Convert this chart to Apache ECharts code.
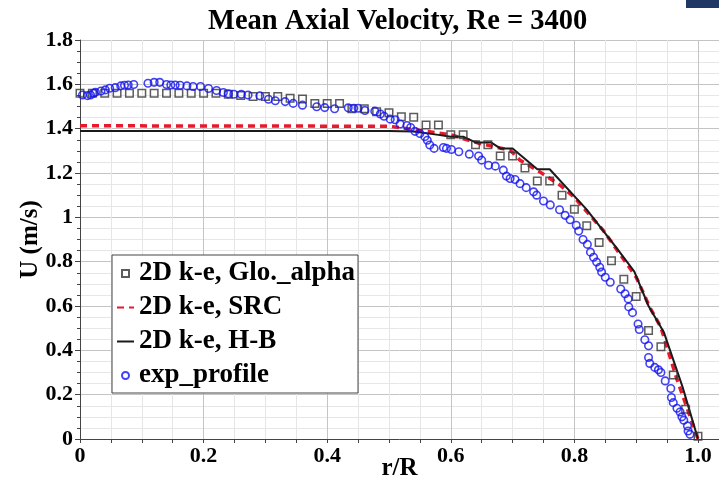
<!DOCTYPE html>
<html>
<head>
<meta charset="utf-8">
<script src="https://cdn.jsdelivr.net/npm/echarts@6/dist/echarts.min.js"></script>
<style>
  html, body { margin: 0; padding: 0; background: #fff; }
  #chart { width: 719px; height: 483px; }
</style>
</head>
<body>
<div id="chart"></div>
<script>
// 2D k-e, Glo._alpha (squares)
const gloR = [0, 0.02, 0.04, 0.06, 0.08, 0.10, 0.12, 0.14, 0.16, 0.18, 0.20, 0.22, 0.24, 0.26, 0.28, 0.30,
  0.32, 0.34, 0.36, 0.38, 0.40, 0.42, 0.44, 0.46, 0.48, 0.50, 0.52, 0.54, 0.56, 0.58, 0.60, 0.62, 0.64,
  0.66, 0.68, 0.70, 0.72, 0.74, 0.76, 0.78, 0.80, 0.82, 0.84, 0.86, 0.88, 0.90, 0.92, 0.94, 0.96, 0.98, 1.00]
const gloU = [1.56, 1.56, 1.56, 1.56, 1.56, 1.56, 1.56, 1.56, 1.56, 1.56, 1.56, 1.56, 1.555, 1.55, 1.545, 1.545,
  1.545, 1.537, 1.534, 1.514, 1.514, 1.514, 1.49, 1.49, 1.476, 1.472, 1.454, 1.451, 1.416, 1.416, 1.372, 1.372, 1.328,
  1.328, 1.277, 1.277, 1.223, 1.164, 1.164, 1.10, 1.037, 0.962, 0.886, 0.804, 0.721, 0.643, 0.489, 0.416, 0.289, 0.134, 0.012]

// 2D k-e, SRC (red dashed)
const srcR = [0, 0.50, 0.53, 0.56, 0.60, 0.647, 0.696, 0.712, 0.744, 0.777, 0.80, 0.847, 0.90, 0.922, 0.94, 0.965, 1.0]
const srcU = [1.413, 1.411, 1.40, 1.388, 1.372, 1.333, 1.303, 1.258, 1.205, 1.145, 1.09, 0.94, 0.73, 0.594, 0.504, 0.277, 0.0]

// 2D k-e, H-B (black line)
const hbR = [0, 0.50, 0.54, 0.58, 0.60, 0.62, 0.64, 0.665, 0.68, 0.70, 0.74, 0.76, 0.82, 0.87, 0.897, 0.92, 0.945, 0.975, 1.0]
const hbU = [1.39, 1.39, 1.387, 1.372, 1.364, 1.364, 1.338, 1.338, 1.311, 1.311, 1.217, 1.217, 1.035, 0.855, 0.755, 0.60, 0.48, 0.235, 0.0]

// exp_profile (blue circles)
const expR = [0.004, 0.012, 0.017, 0.022, 0.025, 0.034, 0.041, 0.048, 0.057, 0.066, 0.072, 0.078, 0.087, 0.110, 0.120,
  0.129, 0.140, 0.147, 0.154, 0.162, 0.173, 0.183, 0.195, 0.208, 0.221, 0.232, 0.240, 0.249, 0.261, 0.272, 0.291,
  0.305, 0.316, 0.332, 0.345, 0.360, 0.383, 0.396, 0.412, 0.434, 0.443, 0.450, 0.461, 0.477, 0.486, 0.492, 0.502,
  0.510, 0.518, 0.529, 0.535, 0.542, 0.550, 0.558, 0.562, 0.566, 0.573, 0.588, 0.593, 0.601, 0.613, 0.630, 0.645,
  0.650, 0.661, 0.672, 0.685, 0.690, 0.696, 0.704, 0.712, 0.722, 0.734, 0.739, 0.750, 0.761, 0.776, 0.785, 0.793,
  0.803, 0.807, 0.814, 0.821, 0.826, 0.831, 0.836, 0.841, 0.844, 0.850, 0.858, 0.875, 0.882, 0.887, 0.888, 0.894,
  0.903, 0.905, 0.914, 0.920, 0.920, 0.922, 0.930, 0.936, 0.940, 0.947, 0.956, 0.957, 0.960, 0.966, 0.971, 0.974,
  0.977, 0.983, 0.984, 0.987]
const expU = [1.552, 1.549, 1.552, 1.560, 1.564, 1.570, 1.575, 1.582, 1.585, 1.593, 1.596, 1.597, 1.599, 1.605, 1.609,
  1.609, 1.599, 1.597, 1.597, 1.596, 1.593, 1.590, 1.590, 1.581, 1.572, 1.563, 1.557, 1.555, 1.555, 1.552, 1.548,
  1.533, 1.526, 1.522, 1.514, 1.506, 1.499, 1.495, 1.490, 1.494, 1.492, 1.492, 1.482, 1.479, 1.466, 1.456, 1.443,
  1.440, 1.421, 1.414, 1.405, 1.388, 1.378, 1.364, 1.348, 1.326, 1.311, 1.315, 1.311, 1.306, 1.296, 1.285, 1.277,
  1.258, 1.235, 1.231, 1.213, 1.186, 1.175, 1.171, 1.152, 1.134, 1.115, 1.100, 1.074, 1.056, 1.034, 1.009, 0.989,
  0.964, 0.938, 0.900, 0.878, 0.843, 0.820, 0.798, 0.775, 0.753, 0.730, 0.707, 0.677, 0.655, 0.632, 0.596, 0.570,
  0.519, 0.494, 0.448, 0.421, 0.368, 0.341, 0.323, 0.312, 0.300, 0.262, 0.228, 0.187, 0.164, 0.139, 0.122, 0.100,
  0.085, 0.059, 0.036, 0.021]

const xTicks = [0, 0.2, 0.4, 0.6, 0.8, 1.0]
const xTickText = ['0', '0.2', '0.4', '0.6', '0.8', '1.0']

const pairs = (xs, ys) => xs.map((x, i) => [x, ys[i]])
const serif = 'Liberation Serif'

const chart = echarts.init(document.getElementById('chart'))
chart.setOption({
  animation: false,
  title: {
    text: 'Mean Axial Velocity, Re = 3400',
    left: 203,
    top: 2,
    textStyle: { fontFamily: serif, fontWeight: 'bold', fontSize: 28.5, color: '#000' }
  },
  graphic: [
    { type: 'rect', right: 0, top: 0, shape: { width: 33, height: 8 }, style: { fill: '#1f3864' } }
  ],
  grid: { left: 80, right: 0, top: 40, bottom: 44, outerBoundsMode: 'none', containLabel: false },
  legend: {
    orient: 'vertical',
    left: 112,
    top: 255,
    itemWidth: 17,
    itemHeight: 7,
    itemGap: 7,
    backgroundColor: '#fff',
    borderColor: '#444',
    borderWidth: 1,
    padding: [5, 3, 4, 4],
    textStyle: { fontFamily: serif, fontWeight: 'bold', fontSize: 27, color: '#000' },
    data: [
      { name: '2D k-e, Glo._alpha', icon: 'path://M0,0h10v10h-10z' },
      { name: '2D k-e, SRC', itemStyle: { opacity: 0 } },
      { name: '2D k-e, H-B', itemStyle: { opacity: 0 } },
      { name: 'exp_profile' }
    ]
  },
  xAxis: [
    {
      // minor grid + ticks every 0.05
      type: 'value', min: 0, max: 1.034, interval: 0.05,
      position: 'bottom',
      axisLine: { show: false },
      axisTick: { show: true, length: 4, lineStyle: { color: '#444' } },
      axisLabel: { show: false },
      splitLine: { show: true, lineStyle: { color: '#e6e6e6', width: 1 } }
    },
    {
      type: 'value', min: 0, max: 1.034, interval: 0.2,
      position: 'bottom',
      name: 'r/R',
      nameLocation: 'middle',
      nameGap: 17,
      nameMoveOverlap: false,
      nameTextStyle: { fontFamily: serif, fontWeight: 'bold', fontSize: 25, color: '#000', verticalAlign: 'top' },
      axisLine: { show: true, lineStyle: { color: '#444', width: 1 } },
      axisTick: { show: false },
      axisLabel: {
        margin: 6,
        fontFamily: serif, fontWeight: 'bold', fontSize: 22, color: '#000',
        formatter: v => {
          const i = xTicks.findIndex(t => Math.abs(t - v) < 1e-6)
          return i < 0 ? '' : xTickText[i]
        }
      },
      splitLine: { show: true, lineStyle: { color: '#c4c4c4', width: 1 } }
    }
  ],
  yAxis: {
    type: 'value', min: 0, max: 1.8, interval: 0.2,
    name: 'U (m/s)',
    nameLocation: 'middle',
    nameGap: 37,
    nameMoveOverlap: false,
    nameTextStyle: { fontFamily: serif, fontWeight: 'bold', fontSize: 25, color: '#000' },
    axisLine: { show: true, lineStyle: { color: '#444', width: 1 } },
    axisTick: { show: true, length: 5, lineStyle: { color: '#444' } },
    minorTick: { show: true, splitNumber: 4, length: 3, lineStyle: { color: '#444' } },
    axisLabel: { margin: 7, fontFamily: serif, fontWeight: 'bold', fontSize: 22, color: '#000' },
    splitLine: { show: true, lineStyle: { color: '#c4c4c4', width: 1 } },
    minorSplitLine: { show: true, lineStyle: { color: '#e6e6e6', width: 1 } }
  },
  series: [
    {
      name: '2D k-e, Glo._alpha',
      type: 'scatter',
      symbol: 'rect',
      symbolSize: 7.5,
      z: 3,
      itemStyle: { color: 'rgba(0,0,0,0)', borderColor: '#333', borderWidth: 1.5 },
      data: pairs(gloR, gloU)
    },
    {
      name: '2D k-e, SRC',
      type: 'line',
      symbol: 'none',
      z: 2,
      lineStyle: { color: '#e8192c', width: 3.5, type: [7, 5] },
      itemStyle: { color: '#e8192c' },
      data: pairs(srcR, srcU)
    },
    {
      name: '2D k-e, H-B',
      type: 'line',
      symbol: 'none',
      z: 2,
      lineStyle: { color: '#1a1a1a', width: 2 },
      itemStyle: { color: '#1a1a1a' },
      data: pairs(hbR, hbU)
    },
    {
      name: 'exp_profile',
      type: 'scatter',
      symbol: 'circle',
      symbolSize: 7.5,
      z: 4,
      itemStyle: { color: 'rgba(0,0,0,0)', borderColor: '#1414f0', borderWidth: 1.6 },
      data: pairs(expR, expU)
    }
  ]
})
</script>
</body>
</html>
